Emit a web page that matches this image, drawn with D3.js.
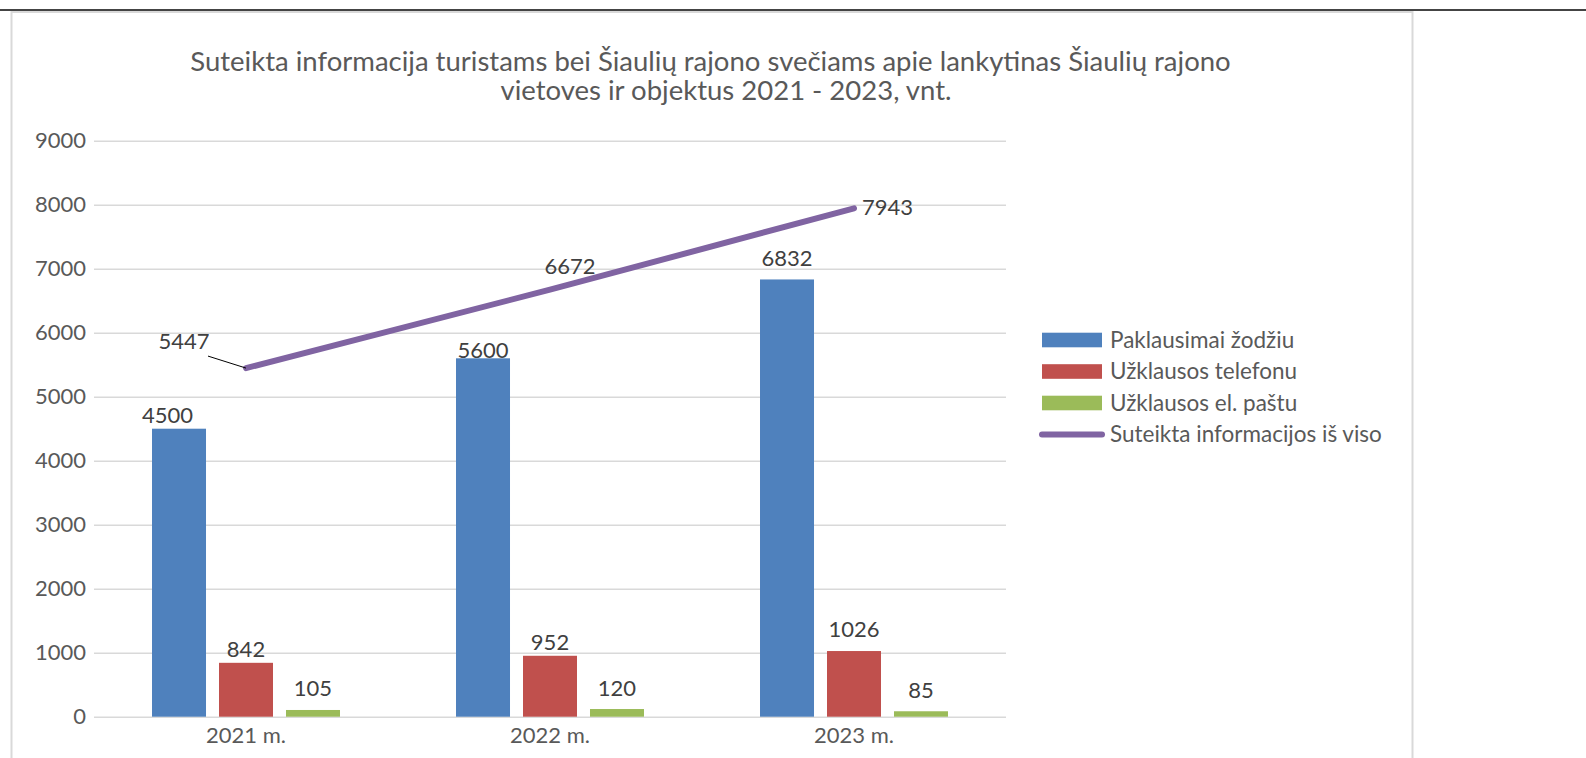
<!DOCTYPE html>
<html>
<head>
<meta charset="utf-8">
<script src="https://cdn.jsdelivr.net/npm/d3@7"></script>
<style>
  html, body { margin: 0; padding: 0; background: #fff; }
  svg { display: block; font-family: Lato, "Open Sans", sans-serif; }
</style>
</head>
<body>
<div id="chart"></div>
<script>
// data
var categories = ["2021 m.", "2022 m.", "2023 m."]
var seriesNames = ["Paklausimai žodžiu", "Užklausos telefonu", "Užklausos el. paštu"]
var zodziu = [4500, 5600, 6832]
var telefonu = [842, 952, 1026]
var pastu = [105, 120, 85]
var totalName = "Suteikta informacijos iš viso"
var total = [5447, 6672, 7943]
var yTicks = [0, 1000, 2000, 3000, 4000, 5000, 6000, 7000, 8000, 9000]
var titleLines = [
    "Suteikta informacija turistams bei Šiaulių rajono svečiams apie lankytinas Šiaulių rajono",
    "vietoves ir objektus 2021 - 2023, vnt."
]

var colors = ["#4F81BD", "#C0504D", "#9BBB59"]
var lineColor = "#8064A2"

// hand-moved labels in the original (dx, dy per bar)
var barLabelNudge = [
    [[-11.5, 0], [0, 0], [0, -8]],
    [[0, 6], [0, 0], [0, -7]],
    [[0, -7.5], [0, -8], [0, -7]]
]

var width = 1586, height = 758
var margin = {left: 94, right: 580, top: 140.7, bottom: 41.3}
var fontSize = "22px"

var svg = d3.select("#chart").append("svg")
    .attr("width", width)
    .attr("height", height)

// page rule and chart frame
svg.append("line")
    .attr("x1", 0).attr("x2", width)
    .attr("y1", 10).attr("y2", 10)
    .attr("stroke", "#444").attr("stroke-width", 2)

svg.append("rect")
    .attr("x", 11.5).attr("y", 12)
    .attr("width", 1401).attr("height", 760)
    .attr("fill", "#fff")
    .attr("stroke", "#d9d9d9").attr("stroke-width", 2)

var rows = categories.map(function(c, i) {
    return {cat: c, values: [zodziu[i], telefonu[i], pastu[i]], total: total[i]}
})

var x0 = d3.scaleBand()
    .domain(categories)
    .range([margin.left, width - margin.right])

var x1 = d3.scaleBand()
    .domain(seriesNames)
    .range([0, x0.bandwidth()])
    .paddingInner(0.194)
    .paddingOuter(0.866)

var y = d3.scaleLinear()
    .domain([0, 9000])
    .range([height - margin.bottom, margin.top])

// title
svg.selectAll(".title")
    .data(titleLines)
    .enter().append("text")
    .attr("class", "title")
    .attr("x", function(d, i) { return i == 0 ? 710.5 : 726 })
    .attr("y", function(d, i) { return 71 + i * 29 })
    .attr("text-anchor", "middle")
    .attr("fill", "#595959")
    .style("font-size", "27.5px")
    .text(function(d) { return d })

// gridlines + y labels
var yAxis = d3.axisLeft(y)
    .tickValues(yTicks)
    .tickFormat(d3.format("d"))
    .tickSize(-(x0.range()[1] - x0.range()[0]))
    .tickPadding(8)

var gy = svg.append("g")
    .attr("transform", "translate(" + margin.left + ",0)")
    .call(yAxis)
gy.select(".domain").remove()
gy.selectAll(".tick line").attr("stroke", "#d9d9d9").attr("stroke-width", 1.5)
gy.selectAll(".tick text")
    .attr("fill", "#595959")
    .style("font-size", fontSize)
    .style("font-family", "Lato, sans-serif")

// x labels
var xAxis = d3.axisBottom(x0).tickSize(0).tickPadding(11)
var gx = svg.append("g")
    .attr("transform", "translate(0," + y(0) + ")")
    .call(xAxis)
gx.select(".domain").remove()
gx.selectAll(".tick text")
    .attr("fill", "#595959")
    .style("font-size", fontSize)
    .style("font-family", "Lato, sans-serif")

// bars
var group = svg.selectAll(".group")
    .data(rows)
    .enter().append("g")
    .attr("class", "group")
    .attr("transform", function(d) { return "translate(" + x0(d.cat) + ",0)" })

group.selectAll("rect")
    .data(function(d, i) { return d.values.map(function(v, j) { return {v: v, j: j, i: i} }) })
    .enter().append("rect")
    .attr("x", function(d) { return x1(seriesNames[d.j]) })
    .attr("width", x1.bandwidth())
    .attr("y", function(d) { return y(d.v) })
    .attr("height", function(d) { return y(0) - y(d.v) })
    .attr("fill", function(d) { return colors[d.j] })

group.selectAll(".blabel")
    .data(function(d, i) { return d.values.map(function(v, j) { return {v: v, j: j, i: i} }) })
    .enter().append("text")
    .attr("class", "blabel")
    .attr("x", function(d) { return x1(seriesNames[d.j]) + x1.bandwidth() / 2 + barLabelNudge[d.i][d.j][0] })
    .attr("y", function(d) { return y(d.v) - 6 + barLabelNudge[d.i][d.j][1] })
    .attr("text-anchor", "middle")
    .attr("fill", "#404040")
    .style("font-size", fontSize)
    .text(function(d) { return d.v })

// total line
var cx = function(d) { return x0(d.cat) + x0.bandwidth() / 2 }
var line = d3.line()
    .x(cx)
    .y(function(d) { return y(d.total) })

svg.append("path")
    .datum(rows)
    .attr("d", line)
    .attr("fill", "none")
    .attr("stroke", lineColor)
    .attr("stroke-width", 6)
    .attr("stroke-linecap", "round")
    .attr("stroke-linejoin", "round")

// line labels, placed as in the original
var lineLabelPos = [
    {dx: -62, dy: -19, anchor: "middle"},
    {dx: 20, dy: -15.5, anchor: "middle"},
    {dx: 8, dy: 6.5, anchor: "start"}
]

// leader for the first one
svg.append("line")
    .attr("x1", cx(rows[0]) - 38).attr("y1", y(rows[0].total) - 12)
    .attr("x2", cx(rows[0])).attr("y2", y(rows[0].total))
    .attr("stroke", "#000").attr("stroke-width", 1)

svg.selectAll(".llabel")
    .data(rows)
    .enter().append("text")
    .attr("class", "llabel")
    .attr("x", function(d, i) { return cx(d) + lineLabelPos[i].dx })
    .attr("y", function(d, i) { return y(d.total) + lineLabelPos[i].dy })
    .attr("text-anchor", function(d, i) { return lineLabelPos[i].anchor })
    .attr("fill", "#404040")
    .style("font-size", fontSize)
    .text(function(d) { return d.total })

// legend
var legendItems = seriesNames.concat([totalName])
var legend = svg.selectAll(".legend")
    .data(legendItems)
    .enter().append("g")
    .attr("class", "legend")
    .attr("transform", function(d, i) { return "translate(1042," + (340 + i * 31.5) + ")" })

legend.each(function(d, i) {
    var g = d3.select(this)
    if (i < 3) {
        g.append("rect")
            .attr("x", 0).attr("y", -7.3)
            .attr("width", 60).attr("height", 14.6)
            .attr("fill", colors[i])
    } else {
        g.append("line")
            .attr("x1", 0).attr("x2", 60)
            .attr("stroke", lineColor)
            .attr("stroke-width", 6)
            .attr("stroke-linecap", "round")
    }
    g.append("text")
        .attr("x", 68)
        .attr("dy", "0.35em")
        .attr("fill", "#595959")
        .style("font-size", "22.5px")
        .text(d)
})
</script>
</body>
</html>
